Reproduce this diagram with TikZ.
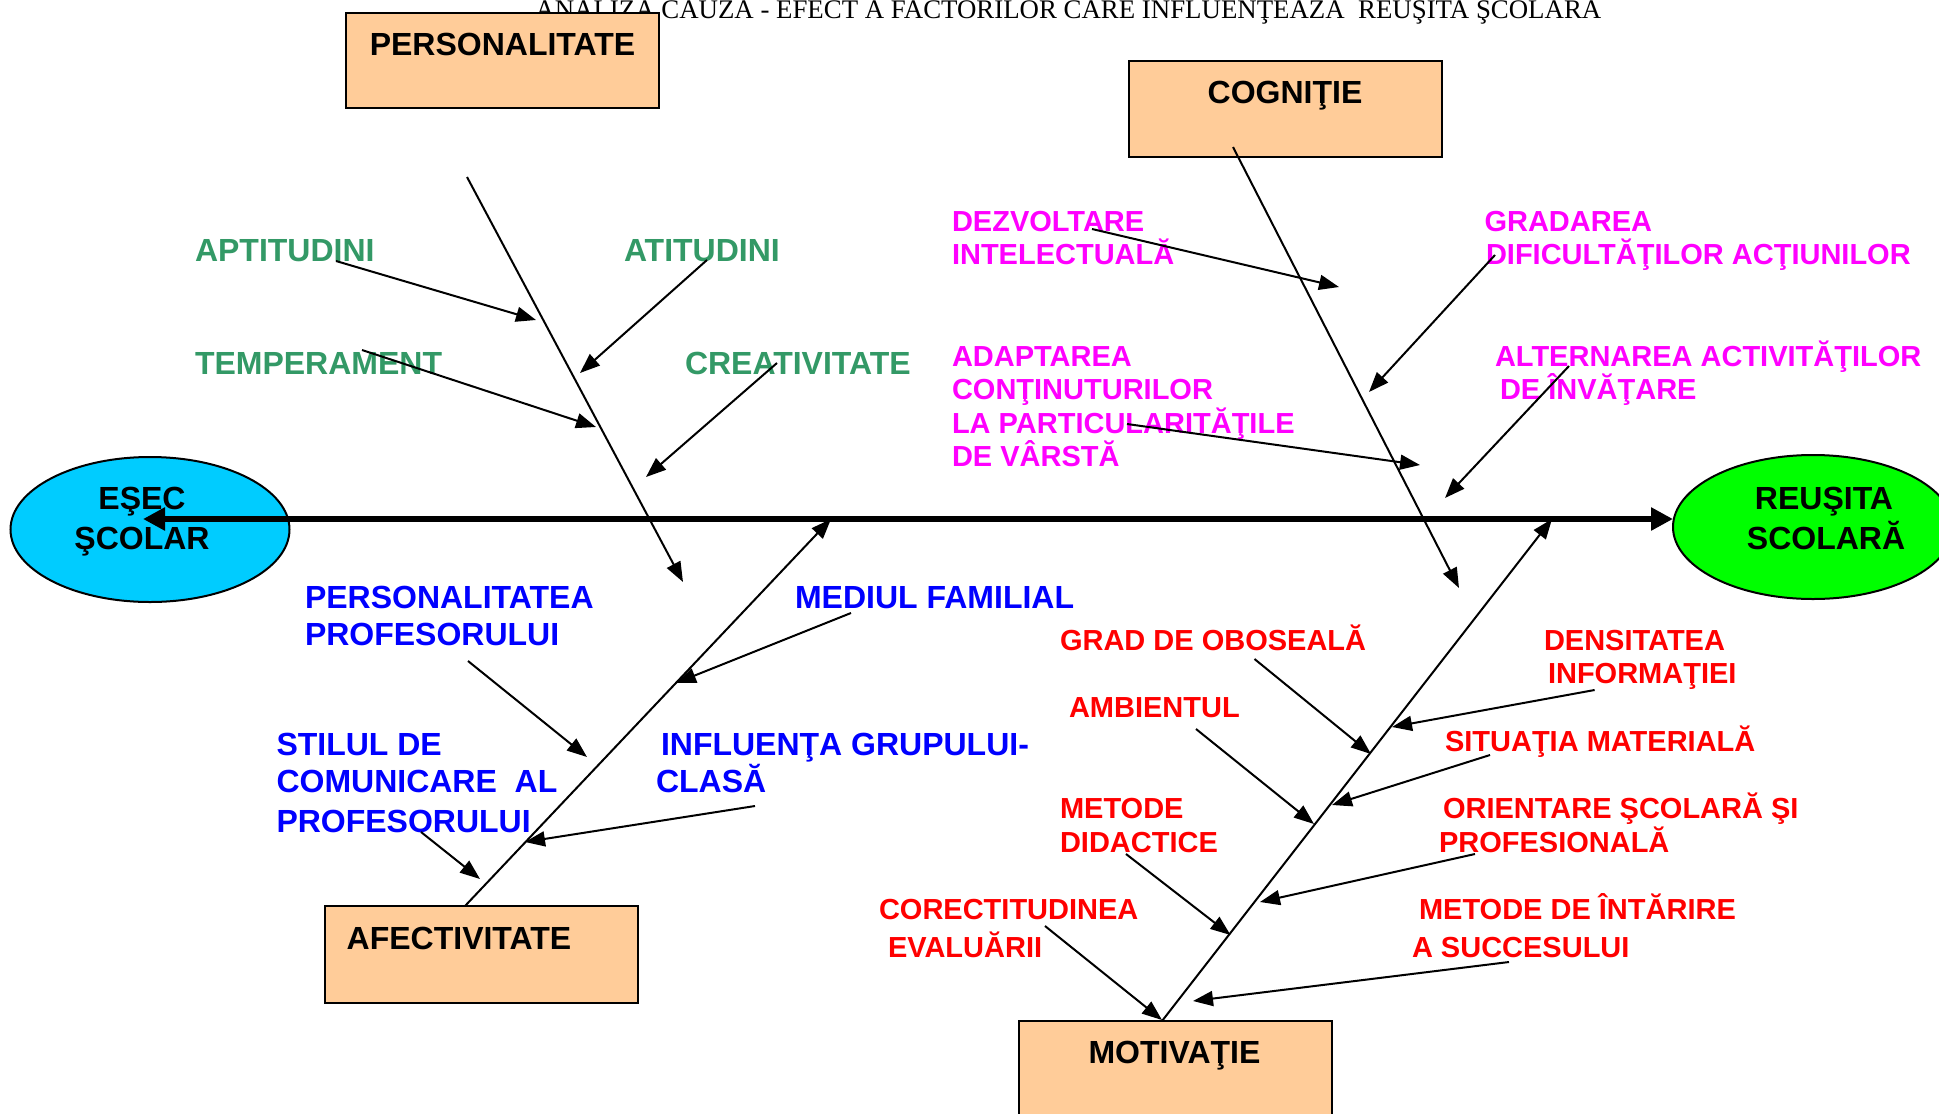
\documentclass[tikz,border=0pt]{standalone}
\usepackage{fontspec}
\setmainfont{Liberation Sans}
\newfontfamily\titlefont{Liberation Serif}
\usetikzlibrary{arrows.meta,shapes.geometric}
\definecolor{peach}{HTML}{FFCC99}
\definecolor{cyanE}{HTML}{00CCFF}
\definecolor{greenR}{HTML}{00FF00}
\definecolor{lblgreen}{HTML}{339966}
\definecolor{lblmag}{HTML}{FF00FF}
\definecolor{lblblue}{HTML}{0000FF}
\definecolor{lblred}{HTML}{FF0000}
\tikzset{
  big/.style={font=\bfseries\fontsize{16}{19}\selectfont},
  small/.style={font=\bfseries\fontsize{14.5}{17}\selectfont},
  lbl/.style={anchor=base west, inner sep=0pt, outer sep=0pt},
  gl/.style={lbl, big, text=lblgreen},
  bl/.style={lbl, big, text=lblblue},
  ml/.style={lbl, small, text=lblmag},
  rl/.style={lbl, small, text=lblred},
  boxtxt/.style={inner sep=0pt, outer sep=0pt, big, text=black},
  catbox/.style={draw=black, line width=1pt, fill=peach, rectangle, anchor=north west,
    inner sep=0pt, outer sep=0pt, minimum width=156.5pt, minimum height=48pt},
  endell/.style={draw=black, line width=1pt, ellipse, inner sep=0pt, outer sep=0pt,
    minimum width=139.5pt, minimum height=72.5pt},
  bone/.style={draw=black, line width=1pt, -{Triangle[length=10pt,width=7.5pt]}},
  sub/.style={draw=black, line width=1pt, -{Triangle[length=10pt,width=7.5pt]}},
  spine/.style={draw=black, line width=3pt, {Triangle[length=11pt,width=11pt]}-{Triangle[length=11pt,width=11pt]}}
}
\begin{document}
\begin{tikzpicture}[x=0.5pt,y=-0.5pt]
\useasboundingbox (0,0) rectangle (1939,1114);

% title
\node[anchor=base west, inner sep=0pt, font=\titlefont\fontsize{13.42}{15}\selectfont] (title) at (535,18)
  {ANALIZA CAUZA - EFECT A FACTORILOR CARE INFLUENŢEAZA\ \ REUŞITA ŞCOLARA};

% category boxes
\node[catbox, minimum height=47.7pt] (bPers) at (346,12.7) {};
\node[catbox, minimum height=48.2pt] (bCogn) at (1129,60.7) {};
\node[catbox, minimum height=48.3pt] (bAfec) at (325,906) {};
\node[catbox, minimum height=60pt] (bMotiv) at (1019,1021) {};
\node[boxtxt, anchor=base] (tPers) at (502.5,55.5) {PERSONALITATE};
\node[boxtxt, anchor=base] (tCogn) at (1285,103.2) {COGNIŢIE};
\node[boxtxt, anchor=base west] (tAfec) at (346.7,949.5) {AFECTIVITATE};
\node[boxtxt, anchor=base] (tMotiv) at (1174.5,1063.5) {MOTIVAŢIE};

% effect ellipses
\node[endell, fill=cyanE] (esec) at (150,529.5) {};
\node[endell, fill=greenR, minimum width=140pt, minimum height=72pt] (reus) at (1813,527) {};

% spine
\coordinate (spL) at (143,519);
\draw[spine] (spL) -- (spL -| reus.west);

\node[boxtxt, anchor=base] (tEsec1) at (142,509.5) {EŞEC};
\node[boxtxt, anchor=base] (tEsec2) at (142,549.5) {ŞCOLAR};
\node[boxtxt, anchor=base] (tReus1) at (1824,509.5) {REUŞITA};
\node[boxtxt, anchor=base] (tReus2) at (1826,549.5) {SCOLARĂ};

% bones
\coordinate (pb1) at (467,177);  \coordinate (pb2) at (683,582);
\coordinate (cb1) at (1233,147); \coordinate (cb2) at (1459,588);
\coordinate (ab1) at (465,906);  \coordinate (ab2) at (831,519);
\coordinate (mb1) at (1162,1021); \coordinate (mb2) at (1552,519);
\draw[bone] (pb1) -- (pb2);
\draw[bone] (cb1) -- (cb2);
\draw[bone] (ab1) -- (ab2);
\draw[bone] (mb1) -- (mb2);

% green labels (PERSONALITATE)
\node[gl] (gApt) at (195,261.5) {APTITUDINI};
\node[gl] (gAtit) at (624,261.5) {ATITUDINI};
\node[gl] (gTemp) at (195,374.5) {TEMPERAMENT};
\node[gl] (gCreat) at (685,374.5) {CREATIVITATE};
\coordinate (sApt) at (336,261);   \coordinate (eApt) at (536,320);
\coordinate (sAtit) at (707,260);  \coordinate (eAtit) at (580,373);
\coordinate (sTemp) at (362,350);  \coordinate (eTemp) at (596,427);
\coordinate (sCreat) at (777,363); \coordinate (eCreat) at (646,477);
\draw[sub] (sApt) -- (eApt);
\draw[sub] (sAtit) -- (eAtit);
\draw[sub] (sTemp) -- (eTemp);
\draw[sub] (sCreat) -- (eCreat);

% magenta labels (COGNITIE)
\node[ml] (mDez1) at (952,231.4) {DEZVOLTARE};
\node[ml] (mDez2) at (952,264.4) {INTELECTUALĂ};
\node[ml] (mGrad1) at (1484.5,231.4) {GRADAREA};
\node[ml] (mGrad2) at (1486,264.4) {DIFICULTĂŢILOR ACŢIUNILOR};
\node[ml] (mAd1) at (952,366.4) {ADAPTAREA};
\node[ml] (mAd2) at (952,399.4) {CONŢINUTURILOR};
\node[ml] (mAd3) at (952,433.4) {LA PARTICULARITĂŢILE};
\node[ml] (mAd4) at (952,466.4) {DE VÂRSTĂ};
\node[ml] (mAlt1) at (1495,366.4) {ALTERNAREA ACTIVITĂŢILOR};
\node[ml] (mAlt2) at (1500,399.4) {DE ÎNVĂŢARE};
\coordinate (sDez) at (1092,229);  \coordinate (eDez) at (1339,287);
\coordinate (sGrad) at (1495,255); \coordinate (eGrad) at (1369,392);
\coordinate (sAd) at (1127,424);   \coordinate (eAd) at (1420,465);
\coordinate (sAlt) at (1569,366);  \coordinate (eAlt) at (1445,498);
\draw[sub] (sDez) -- (eDez);
\draw[sub] (sGrad) -- (eGrad);
\draw[sub] (sAd) -- (eAd);
\draw[sub] (sAlt) -- (eAlt);

% blue labels (AFECTIVITATE)
\node[bl] (bPer1) at (305,608.5) {PERSONALITATEA};
\node[bl] (bPer2) at (305,645.5) {PROFESORULUI};
\node[bl] (bMed) at (795,608.5) {MEDIUL FAMILIAL};
\node[bl] (bSti1) at (276.5,755.5) {STILUL DE};
\node[bl] (bSti2) at (276.5,792.5) {COMUNICARE\ \ AL};
\node[bl] (bSti3) at (276.5,832.5) {PROFESORULUI};
\node[bl] (bInf1) at (661,755.5) {INFLUENŢA GRUPULUI-};
\node[bl] (bInf2) at (656,792.5) {CLASĂ};
\coordinate (sPer) at (468,661); \coordinate (ePer) at (587,757);
\coordinate (sMed) at (851,613); \coordinate (eMed) at (676,683);
\coordinate (sInf) at (755,806); \coordinate (eInf) at (525,842);
\coordinate (sSti) at (421,832); \coordinate (eSti) at (480,879);
\draw[sub] (sPer) -- (ePer);
\draw[sub] (sMed) -- (eMed);
\draw[sub] (sInf) -- (eInf);
\draw[sub] (sSti) -- (eSti);

% red labels (MOTIVATIE)
\node[rl] (rGrad) at (1060,650.4) {GRAD DE OBOSEALĂ};
\node[rl] (rDen1) at (1544,650.4) {DENSITATEA};
\node[rl] (rDen2) at (1548,683.4) {INFORMAŢIEI};
\node[rl] (rAmb) at (1069,717.4) {AMBIENTUL};
\node[rl] (rSit) at (1445,751.4) {SITUAŢIA MATERIALĂ};
\node[rl] (rMet1) at (1060,818.4) {METODE};
\node[rl] (rMet2) at (1060,852.4) {DIDACTICE};
\node[rl] (rOr1) at (1443,818.4) {ORIENTARE ŞCOLARĂ ŞI};
\node[rl] (rOr2) at (1439,852.4) {PROFESIONALĂ};
\node[rl] (rCor1) at (879,919.4) {CORECTITUDINEA};
\node[rl] (rCor2) at (888,957.4) {EVALUĂRII};
\node[rl] (rInt1) at (1419,919.4) {METODE DE ÎNTĂRIRE};
\node[rl] (rInt2) at (1412,957.4) {A SUCCESULUI};
\coordinate (sGO) at (1254.5,659); \coordinate (eGO) at (1371,754);
\coordinate (sDen) at (1594.6,690); \coordinate (eDen) at (1392,727);
\coordinate (sAmb) at (1196,729);  \coordinate (eAmb) at (1314,824);
\coordinate (sSit) at (1490,755);  \coordinate (eSit) at (1332,805);
\coordinate (sMet) at (1126,854);  \coordinate (eMet) at (1230.5,935);
\coordinate (sOr) at (1475,854);   \coordinate (eOr) at (1260,902);
\coordinate (sCor) at (1045,926);  \coordinate (eCor) at (1162,1020);
\coordinate (sInt) at (1509,962);  \coordinate (eInt) at (1193,1001);
\draw[sub] (sGO) -- (eGO);
\draw[sub] (sDen) -- (eDen);
\draw[sub] (sAmb) -- (eAmb);
\draw[sub] (sSit) -- (eSit);
\draw[sub] (sMet) -- (eMet);
\draw[sub] (sOr) -- (eOr);
\draw[sub] (sCor) -- (eCor);
\draw[sub] (sInt) -- (eInt);
\end{tikzpicture}
\end{document}
